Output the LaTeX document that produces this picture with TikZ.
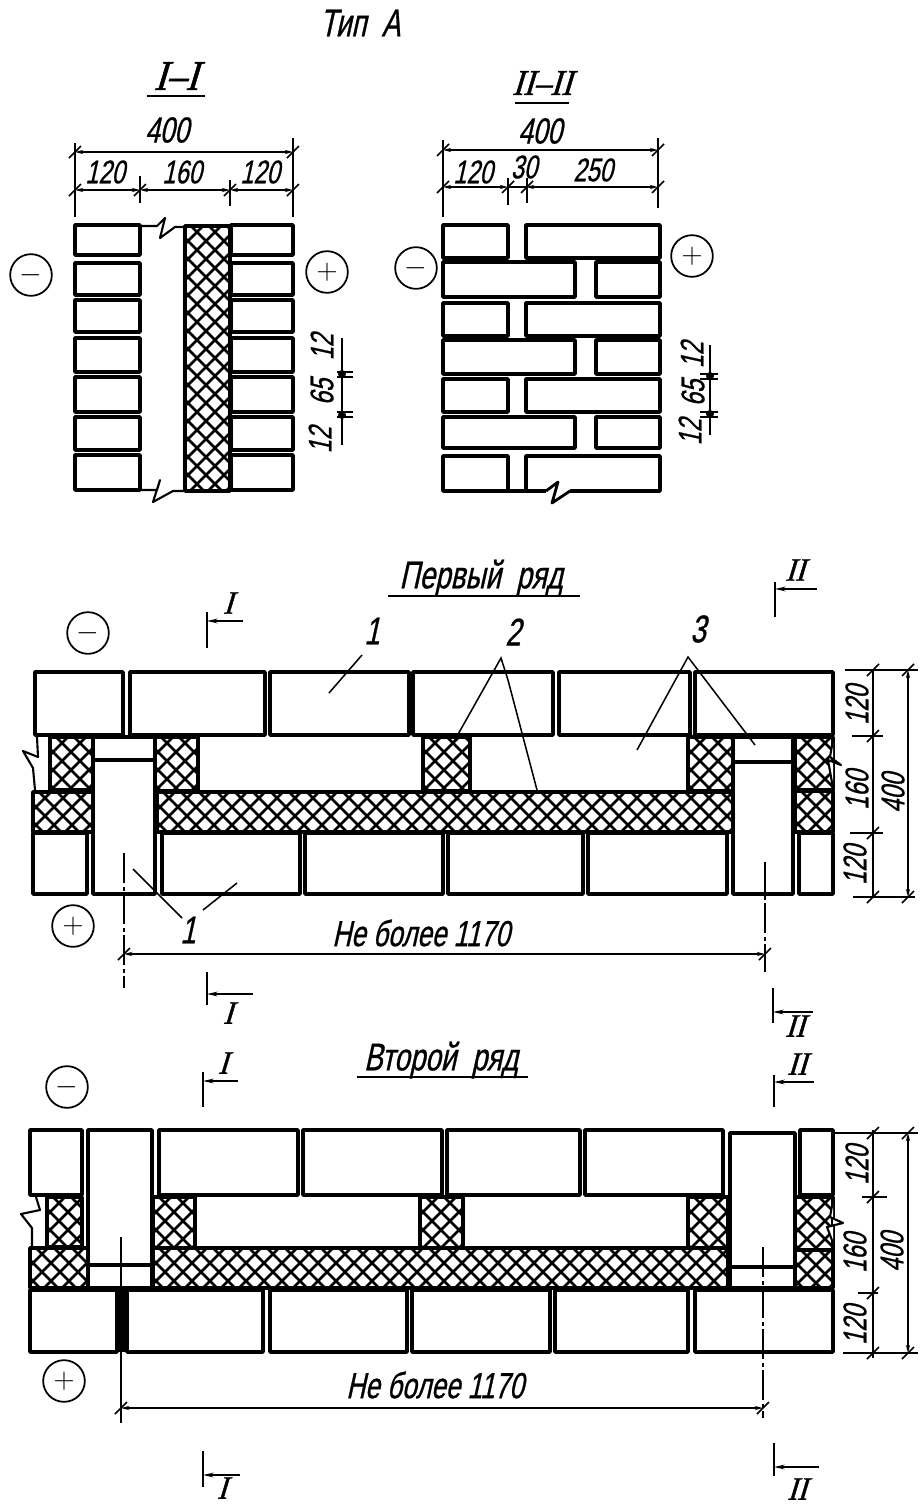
\documentclass[tikz,border=0pt]{standalone}
\usepackage{fontspec}
\usepackage{tikz}
\usetikzlibrary{arrows.meta,positioning}
\newfontfamily\drawfont{Liberation Sans}[FakeStretch=0.72,FakeSlant=0.22,FakeBold=0.7]
\newfontfamily\romfont{Liberation Serif}[FakeStretch=0.9,FakeSlant=0.3,FakeBold=1.2]
\tikzset{
  brick/.style={draw, line width=3.2pt, line join=round},
  zigzag/.style={draw, line width=1.8pt, line join=round},
  hatchline/.style={line width=2.3pt},
  thinline/.style={line width=1.3pt},
  dimline/.style={line width=1.3pt, {Stealth[length=7pt,width=3.5pt]}-{Stealth[length=7pt,width=3.5pt]}},
  lab/.style={inner sep=0pt, font=\drawfont\fontsize{28}{28}\selectfont},
  biglab/.style={inner sep=0pt, font=\drawfont\fontsize{33}{33}\selectfont},
  rom/.style={inner sep=0pt, font=\romfont\fontsize{28}{28}\selectfont},
  romcap/.style={inner sep=0pt, font=\romfont\fontsize{36}{36}\selectfont},
  pole/.style={draw, circle, line width=1.5pt, minimum size=1.25cm, inner sep=0pt, font=\fontsize{26}{26}\selectfont},
  centerline/.style={line width=1.3pt, dash pattern=on 26pt off 3pt on 3pt off 3pt}
}
% one brick outline: x1 y1 x2 y2
\newcommand{\brickbox}[4]{\draw[brick] (#1,#2) -- (#3,#2) -- (#3,#4) -- (#1,#4) -- cycle;}
% hatched mortar field: x1 y1 x2 y2
\newcommand{\hatchbox}[4]{%
  \begin{scope}
    \clip (#1,#2) rectangle (#3,#4);
    \foreach \d in {0,18,...,900} {
      \draw[hatchline] (#1+\d,#2) -- ++(-300,300);
      \draw[hatchline] (#1+\d-300,#2) -- ++(300,300);
    }
  \end{scope}
  \brickbox{#1}{#2}{#3}{#4}
}
\newcommand{\dimtick}[2]{\draw[thinline] (#1-6,#2+6) -- (#1+6,#2-6);}
% section mark: x y1 y2 yarrow xend
\newcommand{\secmark}[5]{%
  \draw[line width=2pt] (#1,#2) -- (#1,#3);
  \draw[thinline, {Stealth[length=9pt,width=4pt]}-] (#1,#4) -- (#5,#4);
}
\begin{document}
\begin{tikzpicture}[x=0.03cm, y=-0.03cm]
  \useasboundingbox (0,0) rectangle (919,1505);

  \node[biglab] (title) at (360,23) {Тип~~А};

  % section I-I
  \node[romcap] (capA) at (176,76) {I–I};
  \draw[thinline] (147,96) -- (205,96);
  \foreach \t/\b in {225/255,263/295,300/332,338/372,377/412,417/450,455/490} {
    \brickbox{75}{\t}{140}{\b}
    \brickbox{231}{\t}{293}{\b}
  }
  \hatchbox{185}{226}{230}{491}
  \draw[zigzag] (140,226) -- (157,226) -- (165,218) -- (160,238) -- (175,227) -- (185,227);
  \draw[zigzag] (140,490) -- (157,490) -- (160,480) -- (153,502) -- (173,491) -- (184,491);
  \node[pole] (minusA) at (31,275) {$-$};
  \node[pole] (plusA) at (327,272) {$+$};

  \node[lab, font=\drawfont\fontsize{31}{31}\selectfont] (dimA) at (167,130) {400};
  \draw[dimline] (75,152) -- (293,152);
  \draw[dimline] (75,190) -- (140,190);
  \draw[dimline] (140,190) -- (230,190);
  \draw[dimline] (230,190) -- (293,190);
  \foreach \x/\a/\b in {75/143/217,293/138/217,140/176/203,230/180/206} {
    \draw[thinline] (\x,\a) -- (\x,\b);
  }
  \foreach \x/\y in {75/152,293/152,75/190,140/190,230/190,293/190} {\dimtick{\x}{\y}}
  \node[lab] at (105,172) {120};
  \node[lab] at (182,172) {160};
  \node[lab] at (260,172) {120};

  \draw[thinline] (342,338) -- (342,445);
  \foreach \y in {372,377,412,417} {\draw[thinline] (337,\y) -- (353,\y);}
  \foreach \y in {374,415} {\fill (342,\y) circle (4);}
  \node[lab, rotate=90] at (322,347) {12};
  \node[lab, rotate=90] at (322,392) {65};
  \node[lab, rotate=90] at (320,440) {12};

  % section II-II
  \node[romcap, font=\romfont\fontsize{31}{31}\selectfont] (capB) at (542,83) {II–II};
  \draw[thinline] (515,103) -- (569,103);
  \foreach \t/\b in {225/258,303/336,379/412} {
    \brickbox{443}{\t}{508}{\b}
    \brickbox{526}{\t}{660}{\b}
  }
  \foreach \t/\b in {262/297,340/374,417/448} {
    \brickbox{443}{\t}{575}{\b}
    \brickbox{596}{\t}{660}{\b}
  }
  \brickbox{443}{456}{508}{491}
  \draw[brick] (570,491) -- (660,491) -- (660,456) -- (526,456) -- (526,491) -- (546,491);
  \draw[zigzag, line width=2.4pt] (546,491) -- (558,482) -- (552,503) -- (570,491);
  \draw[brick] (508,491) -- (526,491);
  \node[pole] (minusB) at (416,268) {$-$};
  \node[pole] (plusB) at (692,256) {$+$};

  \node[lab, font=\drawfont\fontsize{31}{31}\selectfont] (dimB) at (540,131) {400};
  \draw[dimline] (443,150) -- (658,150);
  \draw[dimline] (443,187) -- (508,187);
  \draw[dimline] (526,187) -- (658,187);
  \draw[thinline] (508,187) -- (526,187);
  \foreach \x/\a/\b in {443/140/217,658/138/208,508/178/205,527/178/203} {
    \draw[thinline] (\x,\a) -- (\x,\b);
  }
  \foreach \x/\y in {443/150,658/150,443/187,508/187,527/187,658/187} {\dimtick{\x}{\y}}
  \node[lab] at (473,172) {120};
  \node[lab] at (524,167) {30};
  \node[lab] at (593,170) {250};

  \draw[thinline] (710,345) -- (710,435);
  \foreach \y in {374,379,412,417} {\draw[thinline] (700,\y) -- (718,\y);}
  \foreach \y in {376,414} {\fill (710,\y) circle (4);}
  \node[lab, rotate=90] at (692,355) {12};
  \node[lab, rotate=90] at (693,393) {65};
  \node[lab, rotate=90] at (690,432) {12};

  % first course
  \node[biglab] (rowA) at (481,578) {Первый~~ряд};
  \draw[thinline] (388,596) -- (580,596);
  \foreach \a/\b in {35/123,130/265,270/409,413/553,559/690,695/833} {
    \brickbox{\a}{672}{\b}{735}
  }
  \foreach \a/\b in {33/87,162/300,305/443,448/583,588/727,799/833} {
    \brickbox{\a}{833}{\b}{894}
  }
  \brickbox{93}{737}{155}{760}
  \brickbox{93}{760}{155}{894}
  \brickbox{733}{737}{793}{762}
  \brickbox{733}{762}{793}{894}
  \hatchbox{157}{792}{733}{832}
  \hatchbox{33}{792}{93}{832}
  \hatchbox{50}{737}{93}{790}
  \hatchbox{155}{737}{198}{791}
  \hatchbox{423}{737}{470}{791}
  \hatchbox{688}{737}{733}{791}
  \hatchbox{795}{737}{833}{790}
  \hatchbox{795}{791}{833}{832}
  \draw[zigzag] (37,737) -- (38,757) -- (23,751) -- (33,768) -- (35,790);
  \draw[zigzag, fill=white] (833,740) -- (830,757) -- (841,765) -- (828,760) -- (833,788);

  \node[pole] (minusC) at (88,633) {$-$};
  \node[pole] (plusC) at (73,926) {$+$};
  \node[biglab] (oneC) at (372,631) {1};
  \node[biglab] (twoC) at (513,632) {2};
  \node[biglab] (threeC) at (698,629) {3};
  \node[biglab] (oneD) at (188,930) {1};
  \coordinate (apexTwo) at (501,658);
  \coordinate (apexThree) at (688,657);
  \draw[thinline] (362,655) -- (329,693);
  \draw[thinline] (452,745) -- (apexTwo) -- (508,680) -- (537,790);
  \draw[thinline] (637,750) -- (apexThree) -- (755,745);
  \draw[thinline] (133,869) -- (182,918);
  \draw[thinline] (203,910) -- (237,883);

  \draw[centerline] (124,853) -- (124,988);
  \draw[centerline] (765,862) -- (765,972);
  \draw[dimline] (124,954) -- (765,954);
  \dimtick{124}{954}
  \dimtick{765}{954}
  \node[lab, font=\drawfont\fontsize{31}{31}\selectfont] (lenA) at (421,933) {Не более 1170};

  \secmark{207}{612}{648}{621}{243}
  \node[rom] (secA) at (228,603) {I};
  \secmark{775}{582}{617}{589}{817}
  \node[rom] (secB) at (795,570) {II};
  \secmark{207}{972}{1005}{994}{253}
  \node[rom] (secC) at (228,1013) {I};
  \secmark{773}{988}{1023}{1012}{813}
  \node[rom] (secD) at (795,1026) {II};

  \draw[thinline] (873,670) -- (873,897);
  \draw[dimline] (908,670) -- (908,897);
  \foreach \a/\b/\y in {845/918/670,852/883/736,850/883/833,853/915/897} {
    \draw[thinline] (\a,\y) -- (\b,\y);
  }
  \foreach \x/\y in {873/670,873/736,873/833,873/897,908/670,908/897} {\dimtick{\x}{\y}}
  \node[lab, rotate=90] at (857,705) {120};
  \node[lab, rotate=90] at (857,790) {160};
  \node[lab, rotate=90] at (893,793) {400};
  \node[lab, rotate=90] at (855,865) {120};

  % second course
  \node[biglab] (rowB) at (441,1060) {Второй~~ряд};
  \draw[thinline] (357,1077) -- (528,1077);
  \foreach \a/\b in {30/82,159/298,303/442,447/580,585/723,800/833} {
    \brickbox{\a}{1130}{\b}{1195}
  }
  \foreach \a/\b in {30/117,127/263,270/407,412/550,555/688,695/833} {
    \brickbox{\a}{1290}{\b}{1352}
  }
  \brickbox{88}{1130}{152}{1265}
  \brickbox{88}{1265}{152}{1288}
  \brickbox{730}{1133}{795}{1267}
  \brickbox{730}{1267}{795}{1288}
  \hatchbox{153}{1248}{728}{1288}
  \hatchbox{30}{1248}{88}{1288}
  \hatchbox{47}{1197}{82}{1247}
  \hatchbox{153}{1197}{195}{1248}
  \hatchbox{420}{1197}{463}{1248}
  \hatchbox{688}{1197}{728}{1248}
  \hatchbox{795}{1197}{833}{1250}
  \hatchbox{795}{1250}{833}{1288}
  \draw[zigzag] (36,1197) -- (40,1210) -- (21,1214) -- (32,1228) -- (32,1247);
  \draw[zigzag, fill=white] (833,1200) -- (830,1217) -- (843,1223) -- (827,1227) -- (833,1243);
  \fill (118,1290) rectangle (125,1352);

  \node[pole] (minusD) at (67,1087) {$-$};
  \node[pole] (plusD) at (64,1381) {$+$};

  \draw[thinline] (121,1237) -- (121,1423);
  \draw[centerline] (763,1247) -- (763,1418);
  \draw[dimline] (121,1408) -- (763,1408);
  \dimtick{121}{1408}
  \dimtick{763}{1408}
  \node[lab, font=\drawfont\fontsize{31}{31}\selectfont] (lenB) at (435,1385) {Не более 1170};

  \secmark{203}{1072}{1107}{1081}{238}
  \node[rom] (secE) at (223,1063) {I};
  \secmark{774}{1075}{1107}{1082}{814}
  \node[rom] (secF) at (797,1064) {II};
  \secmark{203}{1451}{1487}{1475}{240}
  \node[rom] (secG) at (222,1488) {I};
  \secmark{774}{1443}{1476}{1467}{819}
  \node[rom] (secH) at (797,1489) {II};

  \draw[thinline] (873,1130) -- (873,1358);
  \draw[dimline] (908,1133) -- (908,1353);
  \foreach \a/\b/\y in {833/918/1133,862/887/1197,858/878/1293,843/918/1353} {
    \draw[thinline] (\a,\y) -- (\b,\y);
  }
  \foreach \x/\y in {873/1133,873/1197,873/1293,873/1353,908/1133,908/1353} {\dimtick{\x}{\y}}
  \node[lab, rotate=90] at (857,1165) {120};
  \node[lab, rotate=90] at (855,1253) {160};
  \node[lab, rotate=90] at (892,1252) {400};
  \node[lab, rotate=90] at (855,1325) {120};
\end{tikzpicture}
\end{document}
